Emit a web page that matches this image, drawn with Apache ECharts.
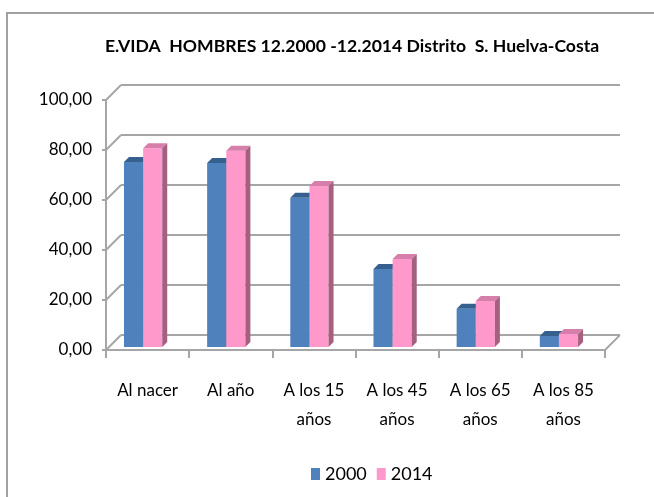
<!DOCTYPE html>
<html>
<head>
<meta charset="utf-8">
<script src="https://cdn.jsdelivr.net/npm/echarts@6/dist/echarts.min.js"></script>
<style>
  html, body { margin: 0; padding: 0; background: #fff; }
  #chart { width: 654px; height: 497px; }
</style>
</head>
<body>
<div id="chart"></div>
<script>
const categories = ["Al nacer", "Al año", "A los 15\naños", "A los 45\naños", "A los 65\naños", "A los 85\naños"];
const years = ["2000", "2014"];
const values2000 = [74.0, 73.6, 59.7, 31.2, 15.3, 4.4];
const values2014 = [79.5, 78.5, 64.4, 35.2, 18.4, 5.2];
const yTicks = [0, 20, 40, 60, 80, 100];

const FONT = "Lato";
const GRID = "#a6a6a6";
const DX = 15, DY = -15; // depth of the 3D box

// front / top / side colours for each series
const faces = [
  { front: "#4f81bd", top: "#36618f", side: "#2f5580" },
  { front: "#ff99cc", top: "#d67fab", side: "#a6607f" }
];

const chart = echarts.init(document.getElementById("chart"), null, { renderer: "canvas" });

// a 3D-looking bar: front face + top + right side
function barRenderer(k) {
  return function (params, api) {
    const i = api.value(0);
    const v = api.value(1);
    const bw = api.size([1, 0])[0];
    const base = api.coord([i, 0]);
    const top = api.coord([i, v]);
    const w = bw * 0.23;
    const x0 = base[0] - bw / 2 + bw * 0.18 + 3 + k * w;
    const y0 = base[1] - 3;
    const y1 = top[1] - 3;
    const d = 5;
    const c = faces[k];
    return {
      type: "group",
      children: [
        { type: "rect", shape: { x: x0, y: y1, width: w, height: y0 - y1 }, style: { fill: c.front } },
        { type: "polygon", shape: { points: [[x0, y1], [x0 + d, y1 - d], [x0 + w + d, y1 - d], [x0 + w, y1]] }, style: { fill: c.top } },
        { type: "polygon", shape: { points: [[x0 + w, y1], [x0 + w + d, y1 - d], [x0 + w + d, y0 - d], [x0 + w, y0]] }, style: { fill: c.side } }
      ]
    };
  };
}

// diagonals of the left wall and the floor
function wallRenderer(params, api) {
  const v = api.value(1);
  const bw = api.size([1, 0])[0];
  const p = api.coord([0, v]);
  const x = p[0] - bw / 2;
  const lines = [
    { type: "line", shape: { x1: x, y1: p[1], x2: x + DX, y2: p[1] + DY }, style: { stroke: GRID, lineWidth: 2 } }
  ];
  if (v === 0) {
    const q = api.coord([categories.length - 1, 0]);
    const xe = q[0] + bw / 2;
    lines.push({ type: "line", shape: { x1: xe, y1: q[1], x2: xe + DX, y2: q[1] + DY }, style: { stroke: GRID, lineWidth: 2 } });
  }
  return { type: "group", children: lines };
}

const option = {
  backgroundColor: "#fff",
  animation: false,
  title: {
    text: "E.VIDA  HOMBRES 12.2000 -12.2014 Distrito  S. Huelva-Costa",
    left: 105,
    top: 37,
    padding: 0,
    textStyle: { fontFamily: FONT, fontWeight: "bold", fontSize: 17.6, color: "#000" }
  },
  legend: {
    data: years,
    left: 311,
    top: 465,
    padding: 0,
    icon: "rect",
    itemWidth: 9,
    itemHeight: 12,
    itemGap: 10,
    textStyle: { fontFamily: FONT, fontSize: 18, color: "#000" }
  },
  graphic: [
    { type: "rect", shape: { x: 7, y: 13, width: 700, height: 600 }, style: { fill: null, stroke: "#a0a0a0", lineWidth: 2 }, z: -1 }
  ],
  grid: [
    { left: 106, top: 100, width: 499, height: 250 },
    { left: 106 + DX, top: 100 + DY, width: 499, height: 250 }
  ],
  xAxis: [
    {
      type: "category",
      gridIndex: 0,
      data: categories,
      axisLine: { lineStyle: { color: GRID, width: 2 } },
      axisTick: { show: true, length: 8, interval: 0, lineStyle: { color: GRID, width: 2 } },
      axisLabel: { interval: 0, margin: 26, lineHeight: 29, fontFamily: FONT, fontSize: 17, color: "#000" }
    },
    { type: "category", gridIndex: 1, data: categories, show: false }
  ],
  yAxis: [
    {
      type: "value",
      gridIndex: 0,
      min: 0,
      max: 100,
      interval: 20,
      axisLine: { show: true, lineStyle: { color: GRID, width: 2 } },
      axisTick: { show: true, length: 4, lineStyle: { color: GRID, width: 2 } },
      splitLine: { show: false },
      axisLabel: {
        margin: 14,
        fontFamily: FONT,
        fontSize: 17,
        color: "#000",
        formatter: (v) => v.toFixed(2).replace(".", ",")
      }
    },
    {
      type: "value",
      gridIndex: 1,
      min: 0,
      max: 100,
      interval: 20,
      axisLine: { show: false },
      axisTick: { show: false },
      axisLabel: { show: false },
      splitLine: { show: true, lineStyle: { color: GRID, width: 2 } }
    }
  ],
  series: [
    {
      type: "custom",
      name: "walls",
      xAxisIndex: 0,
      yAxisIndex: 0,
      silent: true,
      renderItem: wallRenderer,
      data: yTicks.map((v) => [0, v]),
      z: 1
    },
    {
      type: "custom",
      name: years[0],
      xAxisIndex: 0,
      yAxisIndex: 0,
      itemStyle: { color: faces[0].front },
      renderItem: barRenderer(0),
      data: values2000.map((v, i) => [i, v]),
      z: 2
    },
    {
      type: "custom",
      name: years[1],
      xAxisIndex: 0,
      yAxisIndex: 0,
      itemStyle: { color: faces[1].front },
      renderItem: barRenderer(1),
      data: values2014.map((v, i) => [i, v]),
      z: 3
    }
  ]
};

chart.setOption(option);
</script>
</body>
</html>
